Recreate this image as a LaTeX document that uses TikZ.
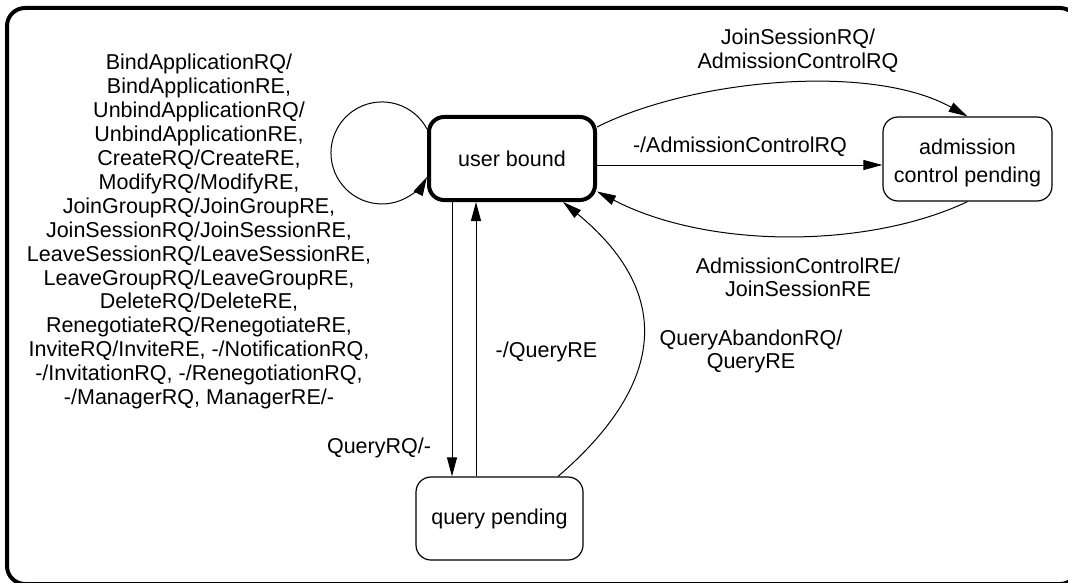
\documentclass[tikz,border=0pt]{standalone}
\usepackage{fontspec}
\setmainfont{Liberation Sans}
\usetikzlibrary{arrows.meta,calc}
\newcommand\lblfont{\fontsize{21.5}{23.9}\selectfont}
\newcommand\statefont{\fontsize{21.5}{28}\selectfont}
\begin{document}
\begin{tikzpicture}[x=1pt,y=-1pt,
  state/.style={draw, fill=white, rounded corners=15pt, line width=1.2pt,
                inner sep=0pt, font=\lblfont},
  trans/.style={line width=1pt, -{Triangle[length=19pt,width=10pt]}},
  lbl/.style={font=\lblfont, inner sep=0pt, anchor=base}]
\useasboundingbox (0,0) rectangle (1068,583);
\clip (0,0) rectangle (1068,583);

% outer frame
\draw[line width=4pt, rounded corners=18pt] (7,8) rectangle (1078,584);

% states
\node[state, line width=4pt, minimum width=166pt, minimum height=83pt]
  (ub) at (512,158.5) {user bound};
\node[state, minimum width=167pt, minimum height=83pt]
  (qp) at (499.5,518.5) {query pending};
\node[state, font=\statefont, minimum width=169pt, minimum height=84pt,
      text height=15pt, text depth=23.6pt]
  (ac) at (967.5,159) {\begin{tabular}[t]{@{}c@{}}admission\\control pending\end{tabular}};

% self loop on user bound
\draw[trans] ($(ub.west)+(0,-29.5)$) arc[start angle=-28, end angle=-332, radius=51];

% user bound <-> admission control pending
\draw[trans] ($(ub.east)+(0,-31.5)$) .. controls (690,80) and (870,62) .. (ac.north);
\draw[trans] ($(ub.east)+(0,6.5)$) coordinate (h1) -- (h1 -| ac.west);
\draw[trans] (ac.south) .. controls (870,248) and (710,250) .. ($(ub.east)+(0,33)$);

% user bound <-> query pending
\path ($(ub.south)+(-60,0)$) coordinate (d1);
\draw[trans] (d1) -- (d1 |- qp.north);
\path ($(ub.south)+(-36,0)$) coordinate (u1);
\draw[trans] (u1 |- qp.north) -- (u1);
\draw[trans] ($(qp.north)+(58.5,0)$) .. controls (670,380) and (670,290) .. ($(ub.south)+(51,0)$);

% transition labels
\node[lbl] (selflbl) at (199,70) {\begin{tabular}[t]{@{}c@{}}
BindApplicationRQ/\\
BindApplicationRE,\\
UnbindApplicationRQ/\\
UnbindApplicationRE,\\
CreateRQ/CreateRE,\\
ModifyRQ/ModifyRE,\\
JoinGroupRQ/JoinGroupRE,\\
JoinSessionRQ/JoinSessionRE,\\
LeaveSessionRQ/LeaveSessionRE,\\
LeaveGroupRQ/LeaveGroupRE,\\
DeleteRQ/DeleteRE,\\
RenegotiateRQ/RenegotiateRE,\\
InviteRQ/InviteRE, -/NotificationRQ,\\
-/InvitationRQ, -/RenegotiationRQ,\\
-/ManagerRQ, ManagerRE/-
\end{tabular}};
\node[lbl] (joinlbl) at (798,45) {\begin{tabular}[t]{@{}c@{}}JoinSessionRQ/\\AdmissionControlRQ\end{tabular}};
\node[lbl] (admlbl) at (740,153) {-/AdmissionControlRQ};
\node[lbl] (admrelbl) at (798,273) {\begin{tabular}[t]{@{}c@{}}AdmissionControlRE/\\JoinSessionRE\end{tabular}};
\node[lbl] (abandonlbl) at (751,345) {\begin{tabular}[t]{@{}c@{}}QueryAbandonRQ/\\QueryRE\end{tabular}};
\node[lbl] (querylbl) at (546.5,357) {-/QueryRE};
\node[lbl] (queryrqlbl) at (379,453) {QueryRQ/-};
\end{tikzpicture}
\end{document}
